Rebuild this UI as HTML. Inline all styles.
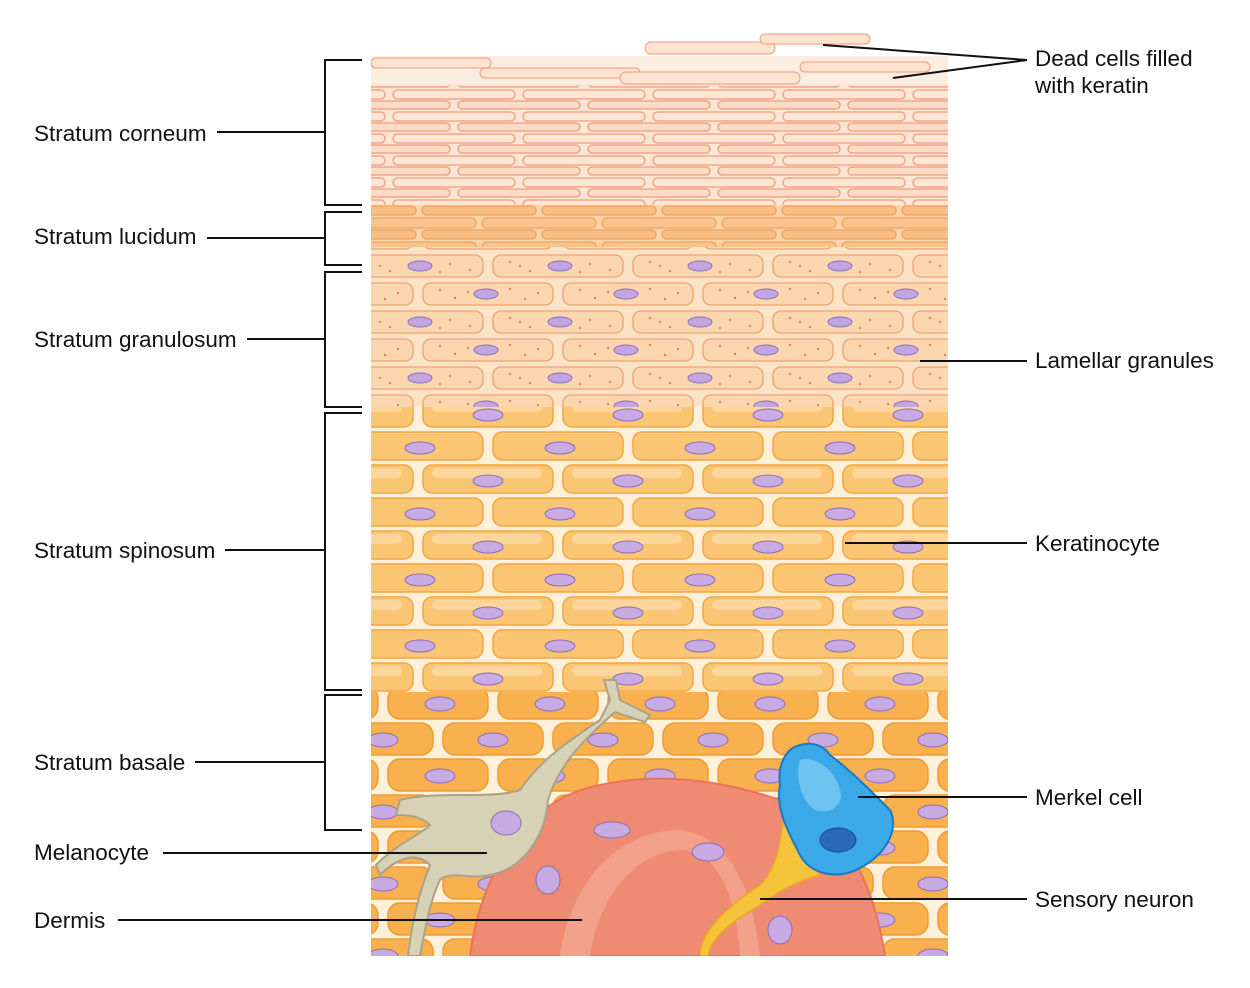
<!DOCTYPE html>
<html><head><meta charset="utf-8"><style>
html,body{margin:0;padding:0;background:#fff;}
svg{display:block;}
text{font-family:"Liberation Sans",sans-serif;font-size:22.5px;fill:#111;}
</style></head><body>
<svg width="1250" height="988" viewBox="0 0 1250 988" xmlns="http://www.w3.org/2000/svg">
<defs>
<pattern id="corn" patternUnits="userSpaceOnUse" width="130" height="22">
<rect width="130" height="22" fill="#fbe6d6"/>
<rect x="3" y="2" width="122" height="9" rx="4.5" fill="#fde6d4" stroke="#f29a7a" stroke-width="1.3"/>
<rect x="-62" y="13" width="122" height="8" rx="4" fill="#fcdcc6" stroke="#f29a7a" stroke-width="1.3"/>
<rect x="68" y="13" width="122" height="8" rx="4" fill="#fcdcc6" stroke="#f29a7a" stroke-width="1.3"/>
</pattern>
<pattern id="luc" patternUnits="userSpaceOnUse" width="120" height="24">
<rect width="120" height="24" fill="#fbd4a8"/>
<rect x="2" y="2" width="114" height="10" rx="5" fill="#f9c58e" stroke="#f0a060" stroke-width="1.3"/>
<rect x="-58" y="14" width="114" height="9" rx="4.5" fill="#f8be82" stroke="#f0a060" stroke-width="1.3"/>
<rect x="62" y="14" width="114" height="9" rx="4.5" fill="#f8be82" stroke="#f0a060" stroke-width="1.3"/>
</pattern>
<pattern id="gran" patternUnits="userSpaceOnUse" width="140" height="56">
<rect width="140" height="56" fill="#fbe3c6"/>
<rect x="3" y="3" width="130" height="22" rx="8" fill="#fcd6ae" stroke="#f0a070" stroke-width="1.3"/>
<rect x="-67" y="31" width="130" height="22" rx="8" fill="#fcd6ae" stroke="#f0a070" stroke-width="1.3"/>
<rect x="73" y="31" width="130" height="22" rx="8" fill="#fcd6ae" stroke="#f0a070" stroke-width="1.3"/>
<ellipse cx="66" cy="14" rx="12" ry="5" fill="#c2a6e0" stroke="#8c6cb8"/>
<ellipse cx="0" cy="42" rx="12" ry="5" fill="#c2a6e0" stroke="#8c6cb8"/>
<ellipse cx="140" cy="42" rx="12" ry="5" fill="#c2a6e0" stroke="#8c6cb8"/>
<g fill="#e8603a"><circle cx="20" cy="10" r="1"/><circle cx="35" cy="18" r="1"/><circle cx="90" cy="9" r="1"/><circle cx="105" cy="19" r="1"/><circle cx="48" cy="12" r="1"/><circle cx="118" cy="13" r="1"/><circle cx="30" cy="40" r="1"/><circle cx="50" cy="46" r="1"/><circle cx="90" cy="38" r="1"/><circle cx="110" cy="47" r="1"/><circle cx="20" cy="48" r="1"/><circle cx="100" cy="42" r="1"/></g>
</pattern>
<pattern id="spin" patternUnits="userSpaceOnUse" width="140" height="66">
<rect width="140" height="66" fill="#fff0da"/>
<rect x="3" y="3" width="130" height="28" rx="9" fill="#fbc674" stroke="#f3a640" stroke-width="1.5"/>
<rect x="-67" y="36" width="130" height="28" rx="9" fill="#fbc674" stroke="#f3a640" stroke-width="1.5"/>
<rect x="73" y="36" width="130" height="28" rx="9" fill="#fbc674" stroke="#f3a640" stroke-width="1.5"/>
<rect x="12" y="6" width="110" height="10" rx="5" fill="#fcd69a"/>
<ellipse cx="68" cy="19" rx="15" ry="6" fill="#c7abe2" stroke="#8c6cb8"/>
<ellipse cx="0" cy="52" rx="15" ry="6" fill="#c7abe2" stroke="#8c6cb8"/>
<ellipse cx="140" cy="52" rx="15" ry="6" fill="#c7abe2" stroke="#8c6cb8"/>
</pattern>
<pattern id="bas" patternUnits="userSpaceOnUse" width="110" height="72">
<rect width="110" height="72" fill="#fff0da"/>
<rect x="3" y="3" width="100" height="32" rx="12" fill="#f8b14e" stroke="#f09a30" stroke-width="1.5"/>
<rect x="-52" y="39" width="100" height="32" rx="12" fill="#f8b14e" stroke="#f09a30" stroke-width="1.5"/>
<rect x="58" y="39" width="100" height="32" rx="12" fill="#f8b14e" stroke="#f09a30" stroke-width="1.5"/>
<ellipse cx="53" cy="20" rx="15" ry="7" fill="#c7abe2" stroke="#8c6cb8"/>
<ellipse cx="0" cy="56" rx="15" ry="7" fill="#c7abe2" stroke="#8c6cb8"/>
<ellipse cx="110" cy="56" rx="15" ry="7" fill="#c7abe2" stroke="#8c6cb8"/>
</pattern>
<clipPath id="c"><rect x="371" y="30" width="577" height="926"/></clipPath>
</defs>

<g clip-path="url(#c)">
<rect x="371" y="84" width="577" height="121" fill="url(#corn)"/>
<rect x="371" y="56" width="577" height="30" fill="#fbe6d6" opacity="0.7"/>
<rect x="371" y="58" width="120" height="10" rx="5" fill="#fde3d0" stroke="#f29a7a"/>
<rect x="480" y="68" width="160" height="10" rx="5" fill="#fde3d0" stroke="#f29a7a"/>
<rect x="645" y="42" width="130" height="12" rx="6" fill="#fde3d0" stroke="#f29a7a"/>
<rect x="760" y="34" width="110" height="10" rx="5" fill="#fde3d0" stroke="#f29a7a"/>
<rect x="800" y="62" width="130" height="10" rx="5" fill="#fde3d0" stroke="#f29a7a"/>
<rect x="620" y="72" width="180" height="12" rx="6" fill="#fde3d0" stroke="#f29a7a"/>
<rect x="371" y="205" width="577" height="42" fill="url(#luc)"/>
<rect x="371" y="247" width="577" height="160" fill="url(#gran)"/>
<rect x="371" y="407" width="577" height="285" fill="url(#spin)"/>
<rect x="371" y="692" width="577" height="264" fill="url(#bas)"/>
<path d="M470,956 C480,880 520,800 600,785 C660,772 720,780 780,800 C830,815 870,860 885,956 Z" fill="#ef8b72" stroke="#e8735a" stroke-width="2"/>
<path d="M560,956 C570,880 620,830 680,830 C720,835 750,870 760,956 L740,956 C735,880 710,850 680,850 C640,852 600,890 590,956 Z" fill="#f4a690" opacity="0.8"/>
<ellipse cx="612" cy="830" rx="18" ry="8" fill="#c7abe2" stroke="#8c6cb8"/>
<ellipse cx="708" cy="852" rx="16" ry="9" fill="#c7abe2" stroke="#8c6cb8"/>
<ellipse cx="548" cy="880" rx="12" ry="14" fill="#c7abe2" stroke="#8c6cb8"/>
<ellipse cx="780" cy="930" rx="12" ry="14" fill="#c7abe2" stroke="#8c6cb8"/>
<g fill="#d7d1b6" stroke="#a8a388" stroke-width="2">
<path d="M400,800 C440,790 490,800 520,790 C540,760 570,740 600,720 L610,700 L604,680 L616,680 L620,700 L650,715 L645,722 L615,712 C590,735 560,760 548,800 C545,840 520,870 490,875 C470,880 450,870 440,880 C430,900 425,930 420,956 L408,956 C412,920 420,890 430,865 C415,850 395,860 380,875 L376,865 C395,845 420,835 430,825 C420,815 405,815 396,815 Z"/>
</g>
<ellipse cx="506" cy="823" rx="15" ry="12" fill="#c7abe2" stroke="#8c6cb8"/>
<path d="M700,956 C700,930 730,905 760,885 C775,870 780,850 785,805 L795,805 C800,840 805,860 820,875 C800,880 780,890 760,905 C735,920 712,935 708,956 Z" fill="#f5c43a" stroke="#e8a820" stroke-width="1.5"/>
<path d="M790,750 C800,742 820,740 830,755 C850,770 870,790 890,810 C900,830 885,855 860,868 C840,880 810,875 800,855 C790,835 775,810 780,785 C778,770 782,758 790,750 Z" fill="#3ba8e8" stroke="#1e78c0" stroke-width="2"/>
<path d="M800,760 C815,755 835,770 840,790 C845,805 830,815 815,810 C800,800 795,775 800,760 Z" fill="#7ccaf2" opacity="0.8"/>
<ellipse cx="838" cy="840" rx="18" ry="12" fill="#2a68b8" stroke="#1a4c90"/>
</g>

<g stroke="#111" stroke-width="2" fill="none">
<path d="M362,60 H325 V205 H362"/>
<path d="M362,212 H325 V265 H362"/>
<path d="M362,272 H325 V407 H362"/>
<path d="M362,413 H325 V690 H362"/>
<path d="M362,695 H325 V830 H362"/>
<path d="M217,132 H325"/>
<path d="M207,238 H325"/>
<path d="M247,339 H325"/>
<path d="M225,550 H325"/>
<path d="M195,762 H325"/>
<path d="M163,853 H487"/>
<path d="M118,920 H582"/>
<path d="M1027,60 L823,45 M1027,60 L893,78"/>
<path d="M920,361 H1027"/>
<path d="M845,543 H1027"/>
<path d="M858,797 H1027"/>
<path d="M760,899 H1027"/>
</g>
<text x="34" y="141">Stratum corneum</text>
<text x="34" y="244">Stratum lucidum</text>
<text x="34" y="347">Stratum granulosum</text>
<text x="34" y="558">Stratum spinosum</text>
<text x="34" y="770">Stratum basale</text>
<text x="34" y="860">Melanocyte</text>
<text x="34" y="928">Dermis</text>
<text x="1035" y="66">Dead cells filled</text>
<text x="1035" y="93">with keratin</text>
<text x="1035" y="368">Lamellar granules</text>
<text x="1035" y="551">Keratinocyte</text>
<text x="1035" y="805">Merkel cell</text>
<text x="1035" y="907">Sensory neuron</text>
</svg>
</body></html>
